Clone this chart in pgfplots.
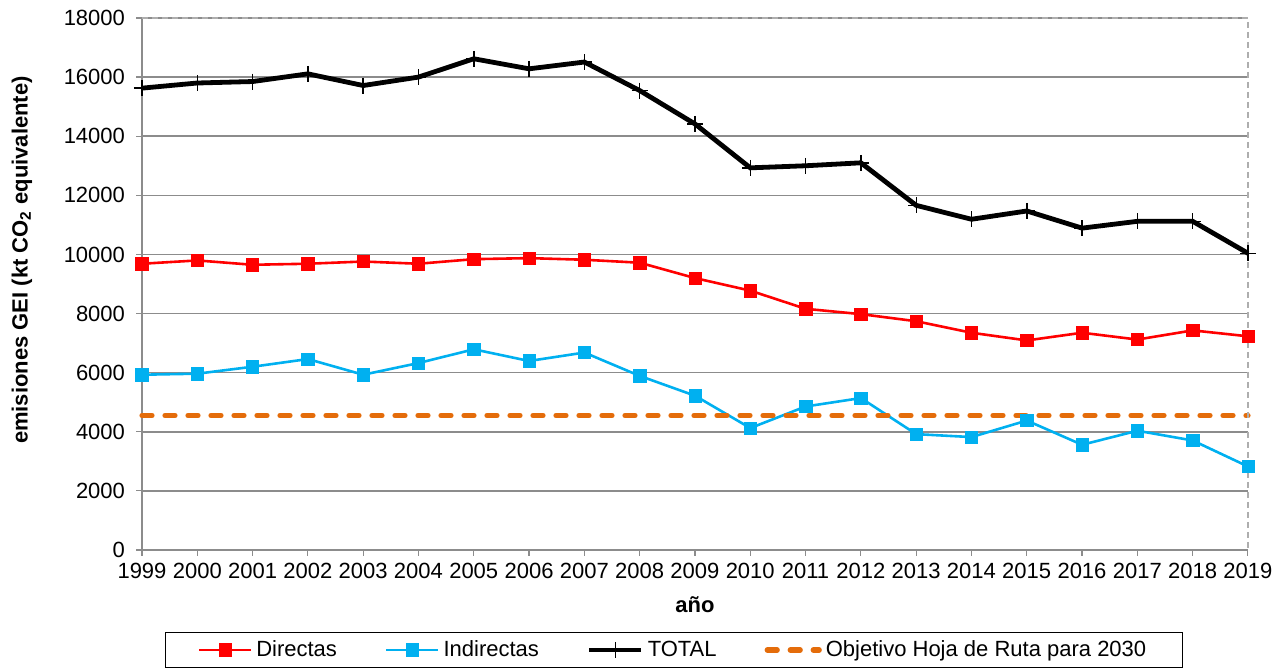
\documentclass[border=0pt]{standalone}
\usepackage{pgfplots}
\pgfplotsset{compat=1.18}
\usepackage{fontspec}
\setmainfont{Liberation Sans}
\definecolor{cred}{RGB}{255,0,0}
\definecolor{cblue}{RGB}{0,176,240}
\definecolor{corange}{RGB}{228,108,10}
\definecolor{cgrid}{RGB}{140,140,140}
\begin{document}
\begin{tikzpicture}
\path[use as bounding box] (-71pt,-61pt) rectangle (567pt,275pt);
\begin{axis}[
  name=ax,
  scale only axis,
  width=553pt, height=266pt,
  xmin=1999, xmax=2019, ymin=0, ymax=18000,
  xtick={1999,...,2019}, ytick={0,2000,...,18000},
  scaled ticks=false,
  /pgf/number format/1000 sep={},
  /pgf/number format/assume math mode=true,
  font=\fontsize{11}{13}\selectfont,
  tick label style={font=\fontsize{11}{13}\selectfont, black},
  yticklabel style={xshift=-2pt},
  axis x line*=bottom, axis y line*=left,
  axis line style={cgrid, line width=0.8pt, -},
  tick align=outside, major tick length=3pt,
  tick style={cgrid, line width=0.6pt},
  ymajorgrids, grid style={cgrid, line width=0.8pt},
  xlabel={\textbf{año}}, ylabel={\textbf{emisiones GEI (kt CO\textsubscript{2} equivalente)}},
  xlabel style={at={(axis description cs:0.5,-0.1034)}, anchor=center},
  ylabel style={at={(axis description cs:-0.1085,0.545)}, anchor=center},
  legend columns=4,
  legend style={at={(axis description cs:0.481,-0.154)}, anchor=north, draw=black, line width=0.6pt,
    font=\fontsize{11}{13}\selectfont, /tikz/every even column/.append style={column sep=22pt},
    inner ysep=2pt, inner xsep=16pt},
  legend image code/.code={\draw[mark repeat=2,mark phase=2,#1] plot coordinates {(0pt,0pt) (13pt,0pt) (26pt,0pt)};},
  legend image post style={sharp plot},
  clip=false,
]
\addplot[cred, line width=1.3pt, mark=square*, mark size=3.1pt, mark options={solid, fill=cred, line width=0.3pt}] coordinates {
(1999,9685) (2000,9797) (2001,9650) (2002,9685) (2003,9760) (2004,9685) (2005,9840) (2006,9875) (2007,9820) (2008,9720) (2009,9200) (2010,8775) (2011,8160) (2012,7980) (2013,7740) (2014,7350) (2015,7090) (2016,7350) (2017,7120) (2018,7430) (2019,7230)
};
\addlegendentry{Directas}
\addplot[cblue, line width=1.3pt, mark=square*, mark size=3.1pt, mark options={solid, fill=cblue, line width=0.3pt}] coordinates {
(1999,5930) (2000,5965) (2001,6200) (2002,6460) (2003,5930) (2004,6325) (2005,6790) (2006,6395) (2007,6680) (2008,5890) (2009,5220) (2010,4125) (2011,4855) (2012,5140) (2013,3920) (2014,3820) (2015,4380) (2016,3560) (2017,4035) (2018,3705) (2019,2825)
};
\addlegendentry{Indirectas}
\addplot[black, line width=2.4pt, mark=+, mark size=4pt, mark options={line width=0.7pt}] coordinates {
(1999,15626) (2000,15800) (2001,15850) (2002,16110) (2003,15715) (2004,16000) (2005,16620) (2006,16280) (2007,16510) (2008,15545) (2009,14415) (2010,12930) (2011,13000) (2012,13100) (2013,11660) (2014,11190) (2015,11470) (2016,10890) (2017,11120) (2018,11120) (2019,10040)
};
\addlegendentry{TOTAL}
\addplot[corange, line width=2.6pt, line cap=round, dash pattern=on 5pt off 6.5pt] coordinates {
(1999,4550) (2019,4550)
};
\addlegendentry{Objetivo Hoja de Ruta para 2030}
\draw[cgrid!70, line width=0.6pt, dash pattern=on 3pt off 2pt] (rel axis cs:0,1) -- (rel axis cs:1,1) -- (rel axis cs:1,0);
\end{axis}
\end{tikzpicture}
\end{document}
